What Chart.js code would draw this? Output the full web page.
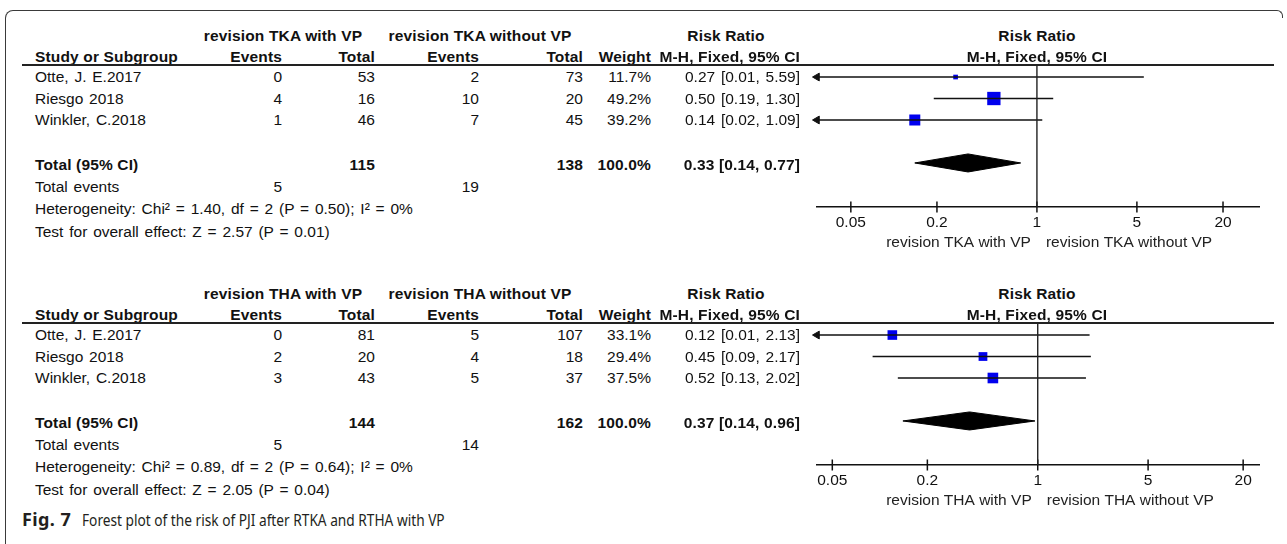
<!DOCTYPE html>
<html>
<head>
<meta charset="utf-8">
<script src="https://cdn.jsdelivr.net/npm/chart.js@4/dist/chart.umd.min.js"></script>
<style>
body{margin:0;background:#fff;width:1287px;height:544px;overflow:hidden;position:relative;font-family:"Liberation Sans",Arial,sans-serif;color:#111}
.t{position:absolute;white-space:nowrap;font-size:15.5px;line-height:18px;word-spacing:1.5px}
.b{font-weight:bold;word-spacing:0;letter-spacing:0.15px}
.frame{position:absolute;left:5px;top:10px;width:1276px;height:600px;border:1.5px solid #3a3a3a;border-bottom:none;border-radius:8px 6px 0 0}
.cover{position:absolute;left:1274px;top:18px;width:20px;height:540px;background:#fff}
.rule{position:absolute;left:22px;width:1252px;height:1.5px;background:#222}
canvas{position:absolute;left:800px}
.cap{position:absolute;top:508px;font-family:"Noto Sans",sans-serif;color:#231f20;white-space:nowrap;transform-origin:0 50%}
</style>
</head>
<body>
<div class="frame"></div>
<div class="cover"></div>
<canvas id="tka" width="487" height="200" style="top:55px"></canvas>
<canvas id="tha" width="487" height="200" style="top:313px"></canvas>
<div class="cap" style="left:22px;top:507px;font-size:18px;font-weight:bold;letter-spacing:0.4px">Fig. 7</div>
<div class="cap" style="left:82px;font-size:16.5px;transform:scaleX(0.83)">Forest plot of the risk of PJI after RTKA and RTHA with VP</div>
<script>
var tickValues = [0.05, 0.2, 1, 5, 20];
var tickLabels = ["0.05", "0.2", "1", "5", "20"];
var studies = ["Otte, J. E.2017", "Riesgo 2018", "Winkler, C.2018"];

// revision TKA
var tkaGroups = ["revision TKA with VP", "revision TKA without VP"];
var tkaEventsVP = [0, 4, 1];
var tkaTotalVP = [53, 16, 46];
var tkaEventsNoVP = [2, 10, 7];
var tkaTotalNoVP = [73, 20, 45];
var tkaWeight = [11.7, 49.2, 39.2];
var tkaRR = [0.27, 0.50, 0.14];
var tkaLow = [0.01, 0.19, 0.02];
var tkaHigh = [5.59, 1.30, 1.09];
var tkaTotals = [115, 138];
var tkaTotalWeight = 100.0;
var tkaPooled = [0.33, 0.14, 0.77];
var tkaTotalEvents = [5, 19];
var tkaHet = "Heterogeneity: Chi\u00b2 = 1.40, df = 2 (P = 0.50); I\u00b2 = 0%";
var tkaTest = "Test for overall effect: Z = 2.57 (P = 0.01)";
var tkaRange = [0.029, 35.7];

// revision THA
var thaGroups = ["revision THA with VP", "revision THA without VP"];
var thaEventsVP = [0, 2, 3];
var thaTotalVP = [81, 20, 43];
var thaEventsNoVP = [5, 4, 5];
var thaTotalNoVP = [107, 18, 37];
var thaWeight = [33.1, 29.4, 37.5];
var thaRR = [0.12, 0.45, 0.52];
var thaLow = [0.01, 0.09, 0.13];
var thaHigh = [2.13, 2.17, 2.02];
var thaTotals = [144, 162];
var thaTotalWeight = 100.0;
var thaPooled = [0.37, 0.14, 0.96];
var thaTotalEvents = [5, 14];
var thaHet = "Heterogeneity: Chi\u00b2 = 0.89, df = 2 (P = 0.64); I\u00b2 = 0%";
var thaTest = "Test for overall effect: Z = 2.05 (P = 0.04)";
var thaRange = [0.04, 25.2];

function txt(s, x, y, align, bold){
    var d = document.createElement('div')
    d.className = 't' + (bold ? ' b' : '')
    d.textContent = s
    d.style.left = x + 'px'
    d.style.top = y + 'px'
    var tx = align == 'r' ? '-100%' : (align == 'c' ? '-50%' : '0')
    d.style.transform = 'translate(' + tx + ',-50%)'
    document.body.appendChild(d)
}

function ci(v, lo, hi){
    return v.toFixed(2) + ' [' + lo.toFixed(2) + ', ' + hi.toFixed(2) + ']'
}

function table(p, off){
    txt(p.groups[0], 283, 36 + off, 'c', true)
    txt(p.groups[1], 480, 36 + off, 'c', true)
    txt('Risk Ratio', 726, 36 + off, 'c', true)
    txt('Risk Ratio', 1037, 36 + off, 'c', true)
    txt('Study or Subgroup', 35, 57 + off, 'l', true)
    txt('Events', 282, 57 + off, 'r', true)
    txt('Total', 375, 57 + off, 'r', true)
    txt('Events', 479, 57 + off, 'r', true)
    txt('Total', 583, 57 + off, 'r', true)
    txt('Weight', 651, 57 + off, 'r', true)
    txt('M-H, Fixed, 95% CI', 800, 57 + off, 'r', true)
    txt('M-H, Fixed, 95% CI', 1037, 57 + off, 'c', true)
    var rule = document.createElement('div')
    rule.className = 'rule'
    rule.style.top = (64 + off) + 'px'
    document.body.appendChild(rule)

    var rowY = [77, 98.5, 120]
    studies.forEach(function(s, i){
        var y = rowY[i] + off
        txt(s, 35, y, 'l')
        txt(String(p.evVP[i]), 282, y, 'r')
        txt(String(p.totVP[i]), 375, y, 'r')
        txt(String(p.evNo[i]), 479, y, 'r')
        txt(String(p.totNo[i]), 583, y, 'r')
        txt(p.weight[i].toFixed(1) + '%', 651, y, 'r')
        txt(ci(p.rr[i], p.low[i], p.high[i]), 800, y, 'r')
    })
    txt('Total (95% CI)', 35, 165 + off, 'l', true)
    txt(String(p.totals[0]), 375, 165 + off, 'r', true)
    txt(String(p.totals[1]), 583, 165 + off, 'r', true)
    txt(p.totalWeight.toFixed(1) + '%', 651, 165 + off, 'r', true)
    txt(ci(p.pooled[0], p.pooled[1], p.pooled[2]), 800, 165 + off, 'r', true)
    txt('Total events', 35, 187 + off, 'l')
    txt(String(p.totEvents[0]), 282, 187 + off, 'r')
    txt(String(p.totEvents[1]), 479, 187 + off, 'r')
    txt(p.het, 35, 209 + off, 'l')
    txt(p.test, 35, 232 + off, 'l')
}

// labels either side of the line of no effect
var sideLabels = {
    id: 'sideLabels',
    afterDraw: function(chart, args, opts){
        var ctx = chart.ctx
        var x1 = chart.scales.x.getPixelForValue(1)
        var y = chart.chartArea.bottom + 36
        ctx.save()
        ctx.font = '15.5px "Liberation Sans", Arial, sans-serif'
        ctx.fillStyle = '#222'
        ctx.textBaseline = 'middle'
        ctx.textAlign = 'right'
        ctx.fillText(opts.left, x1 - 6, y)
        ctx.textAlign = 'left'
        ctx.fillText(opts.right, x1 + 9, y)
        ctx.restore()
    }
}

function forest(id, p){
    var rows = [1, 2, 3]
    var totalRow = 5
    var yMin = 0.44, yMax = 7.05
    var h = 0.42
    var ds = []

    ds.push({data: [{x: 1, y: yMin}, {x: 1, y: yMax}], borderColor: '#222', borderWidth: 1.4, pointRadius: 0})

    var arrows = []
    p.rr.forEach(function(v, i){
        var lo = Math.max(p.low[i], p.range[0])
        var hi = Math.min(p.high[i], p.range[1])
        ds.push({data: [{x: lo, y: rows[i]}, {x: hi, y: rows[i]}], borderColor: '#111', borderWidth: 1.5, pointRadius: 0})
        if (p.low[i] < p.range[0]) arrows.push({x: p.range[0], y: rows[i]})
    })
    ds.push({data: arrows, showLine: false, pointStyle: 'triangle', pointRotation: -90, pointRadius: 4.5,
        pointBackgroundColor: '#111', pointBorderColor: '#111', pointBorderWidth: 1, clip: false})

    ds.push({data: p.rr.map(function(v, i){ return {x: v, y: rows[i]} }), showLine: false, pointStyle: 'rect',
        pointRadius: p.weight.map(function(w){ return (2 + 0.23 * w) * Math.SQRT1_2 }),
        pointBackgroundColor: '#0000ee', pointBorderColor: '#0000ee', pointBorderWidth: 0})

    // pooled diamond, upper and lower halves
    ds.push({data: [{x: p.pooled[1], y: totalRow}, {x: p.pooled[0], y: totalRow - h}, {x: p.pooled[2], y: totalRow}],
        fill: {value: totalRow}, backgroundColor: '#000', borderColor: '#000', borderWidth: 1, pointRadius: 0})
    ds.push({data: [{x: p.pooled[1], y: totalRow}, {x: p.pooled[0], y: totalRow + h}, {x: p.pooled[2], y: totalRow}],
        fill: {value: totalRow}, backgroundColor: '#000', borderColor: '#000', borderWidth: 1, pointRadius: 0})

    // tick marks crossing the axis
    ds.push({data: tickValues.map(function(v){ return {x: v, y: yMax} }), showLine: false, pointStyle: 'line',
        pointRotation: 90, pointRadius: 5.5, pointBorderColor: '#111', pointBorderWidth: 1.5, clip: false})

    new Chart(document.getElementById(id), {
        type: 'line',
        data: {datasets: ds},
        plugins: [sideLabels],
        options: {
            responsive: false,
            animation: false,
            devicePixelRatio: 1,
            layout: {padding: {top: 10, left: 17, right: 28, bottom: 0}},
            plugins: {
                legend: {display: false},
                tooltip: {enabled: false},
                sideLabels: {left: p.groups[0], right: p.groups[1]}
            },
            scales: {
                x: {
                    type: 'logarithmic',
                    min: p.range[0],
                    max: p.range[1],
                    afterBuildTicks: function(s){ s.ticks = tickValues.map(function(v){ return {value: v} }) },
                    afterFit: function(s){ s.height = 48 },
                    ticks: {
                        autoSkip: false, maxRotation: 0, padding: 6, color: '#111',
                        font: {family: 'Liberation Sans', size: 15.5},
                        callback: function(v, i){ return tickLabels[i] }
                    },
                    grid: {display: false, drawTicks: false},
                    border: {display: true, color: '#111', width: 1.5}
                },
                y: {type: 'linear', min: yMin, max: yMax, reverse: true, display: false}
            }
        }
    })
}

var tka = {groups: tkaGroups, evVP: tkaEventsVP, totVP: tkaTotalVP, evNo: tkaEventsNoVP, totNo: tkaTotalNoVP,
    weight: tkaWeight, rr: tkaRR, low: tkaLow, high: tkaHigh, totals: tkaTotals, totalWeight: tkaTotalWeight,
    pooled: tkaPooled, totEvents: tkaTotalEvents, het: tkaHet, test: tkaTest, range: tkaRange}
var tha = {groups: thaGroups, evVP: thaEventsVP, totVP: thaTotalVP, evNo: thaEventsNoVP, totNo: thaTotalNoVP,
    weight: thaWeight, rr: thaRR, low: thaLow, high: thaHigh, totals: thaTotals, totalWeight: thaTotalWeight,
    pooled: thaPooled, totEvents: thaTotalEvents, het: thaHet, test: thaTest, range: thaRange}

table(tka, 0)
table(tha, 258)
forest('tka', tka)
forest('tha', tha)
</script>
</body>
</html>
